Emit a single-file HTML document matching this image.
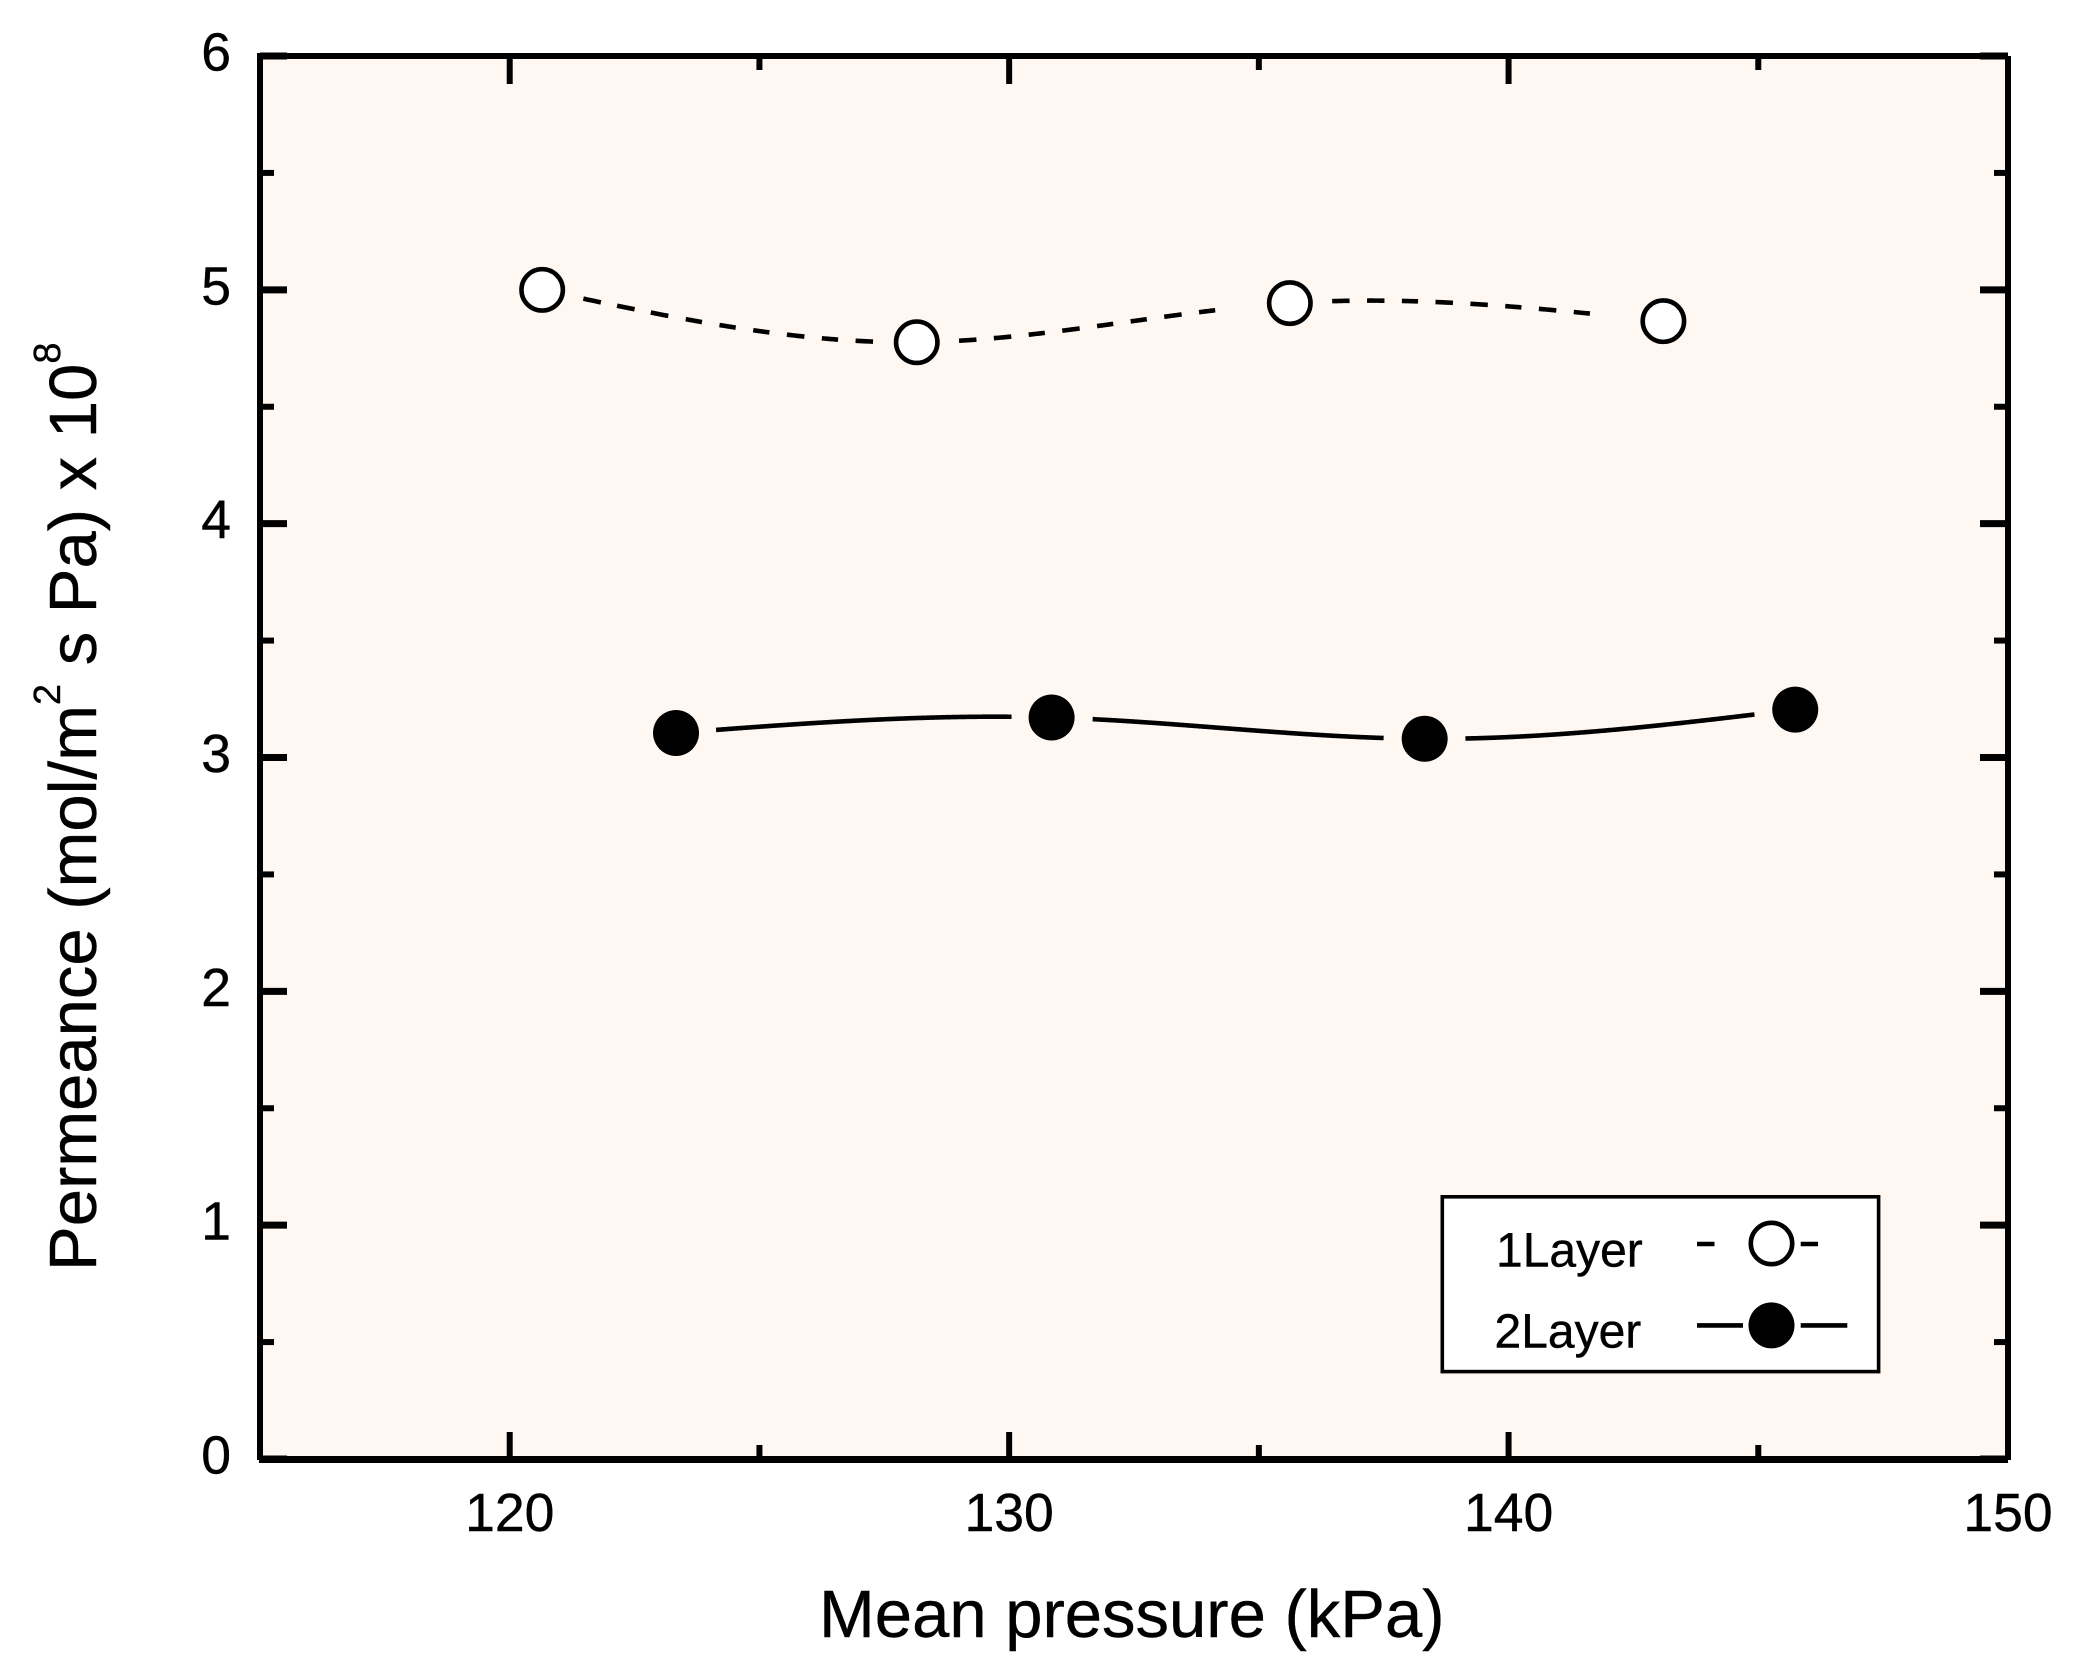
<!DOCTYPE html>
<html lang="en">
<head>
<meta charset="utf-8">
<title>Permeance vs mean pressure</title>
<style>
html,body{margin:0;padding:0;background:#fff;}
svg{display:block;}
text{font-family:"Liberation Sans",Arial,sans-serif;fill:#000;stroke:#000;stroke-width:.4;}
</style>
</head>
<body>
<svg id="chart" xmlns="http://www.w3.org/2000/svg" width="2083" height="1679" viewBox="0 0 2083 1679">
  <rect x="0" y="0" width="2083" height="1679" fill="#ffffff"/>
  <rect x="260" y="56" width="1748" height="1403" fill="#FFF7F1"/>
  <g id="ticks"></g>
  <g id="series"></g>
  <rect x="258" y="53" width="1750" height="6" fill="#000"/>
  <rect x="259" y="1456" width="1749" height="7" fill="#000"/>
  <rect x="257" y="53" width="6" height="1407" fill="#000"/>
  <rect x="2005" y="56" width="6" height="1404" fill="#000"/>
  <g id="tick-labels" font-size="53.5"></g>
  <text x="819" y="1637" font-size="67">Mean pressure (kPa)</text>
  <text transform="translate(96 1271) rotate(-90)" font-size="67">Permeance (mol/m<tspan font-size="38" dy="-36">2</tspan><tspan dy="36"> s Pa) x 10</tspan><tspan font-size="38" dy="-36">8</tspan></text>
  <g>
    <rect x="1442.3" y="1196.8" width="436.3" height="174.8" fill="#fff" stroke="#000" stroke-width="3.6"/>
    <text x="1496" y="1266.5" font-size="48">1Layer</text>
    <text x="1494.5" y="1347.5" font-size="48">2Layer</text>
    <line x1="1697" y1="1244" x2="1714.5" y2="1244" stroke="#000" stroke-width="4.6"/>
    <line x1="1800.7" y1="1244" x2="1818" y2="1244" stroke="#000" stroke-width="4.6"/>
    <circle cx="1771.5" cy="1243.5" r="20.7" fill="#fff" stroke="#000" stroke-width="4.6"/>
    <line x1="1697" y1="1325.4" x2="1743" y2="1325.4" stroke="#000" stroke-width="4.6"/>
    <line x1="1800.7" y1="1325.4" x2="1847.3" y2="1325.4" stroke="#000" stroke-width="4.6"/>
    <circle cx="1771.5" cy="1325.4" r="23" fill="#000"/>
  </g>
</svg>
<script>
const oneLayerPressure = [120.65, 128.15, 135.62, 143.10];
const oneLayerPermeance = [5.0, 4.776, 4.943, 4.866];
const twoLayerPressure = [123.33, 130.85, 138.32, 145.74];
const twoLayerPermeance = [3.105, 3.171, 3.08, 3.205];
const xMajorTicks = [120, 130, 140, 150];
const xMinorTicks = [125, 135, 145];
const xTickLabels = ['120', '130', '140', '150'];
const yMajorTicks = [0, 1, 2, 3, 4, 5, 6];
const yMinorTicks = [0.5, 1.5, 2.5, 3.5, 4.5, 5.5];
const yTickLabels = ['0', '1', '2', '3', '4', '5', '6'];

const NS = 'http://www.w3.org/2000/svg';
function xScale(v) { return 260 + (v - 115) * (1748 / 35); }
function yScale(v) { return 1459 - v * (1403 / 6); }

function make(tag, attrs, parent) {
  const el = document.createElementNS(NS, tag);
  for (const k in attrs) el.setAttribute(k, attrs[k]);
  parent.appendChild(el);
  return el;
}

/* Natural cubic spline through the series, returned per interval in pixels. */
function splinePieces(xs, ys) {
  const n = xs.length;
  const h = [], m = new Array(n).fill(0);
  for (let i = 0; i < n - 1; i++) h.push(xs[i + 1] - xs[i]);
  const c = new Array(n).fill(0), d = new Array(n).fill(0);
  for (let i = 1; i < n - 1; i++) {
    const a = h[i - 1], b = 2 * (h[i - 1] + h[i]), g = h[i];
    const r = 6 * ((ys[i + 1] - ys[i]) / h[i] - (ys[i] - ys[i - 1]) / h[i - 1]);
    const w = b - a * c[i - 1];
    c[i] = g / w;
    d[i] = (r - a * d[i - 1]) / w;
  }
  for (let i = n - 2; i > 0; i--) m[i] = d[i] - c[i] * m[i + 1];
  const pieces = [];
  for (let i = 0; i < n - 1; i++) {
    const pts = [];
    for (let s = 0; s <= 300; s++) {
      const t = s / 300, A = 1 - t, x = xs[i] + t * h[i];
      const y = A * ys[i] + t * ys[i + 1] +
        ((A * A * A - A) * m[i] + (t * t * t - t) * m[i + 1]) * h[i] * h[i] / 6;
      pts.push([xScale(x), yScale(y)]);
    }
    pieces.push(pts);
  }
  return pieces;
}

function clearOfMarkers(pts, a, b, gap) {
  return pts.filter(p => Math.hypot(p[0] - a[0], p[1] - a[1]) > gap && Math.hypot(p[0] - b[0], p[1] - b[1]) > gap);
}

function solidPath(pts) {
  return 'M' + pts.map(p => p[0].toFixed(2) + ' ' + p[1].toFixed(2)).join('L');
}

/* Whole dashes only: an incomplete trailing dash is dropped. */
function dashedPath(pts, dash, period) {
  let out = '', s = 0, cur = [pts[0]], on = true, next = dash;
  for (let i = 1; i < pts.length; i++) {
    s += Math.hypot(pts[i][0] - pts[i - 1][0], pts[i][1] - pts[i - 1][1]);
    if (on) {
      cur.push(pts[i]);
      if (s >= next) { out += solidPath(cur); on = false; next += period - dash; }
    } else if (s >= next) {
      on = true; cur = [pts[i]]; next += dash;
    }
  }
  return out;
}

function drawSeries(xs, ys, name, dashed, filled, gap) {
  const group = document.getElementById('series');
  const pieces = splinePieces(xs, ys);
  const centers = xs.map((x, i) => [xScale(x), yScale(ys[i])]);
  let d = '';
  pieces.forEach((pts, i) => {
    const kept = clearOfMarkers(pts, centers[i], centers[i + 1], gap);
    d += dashed ? dashedPath(kept, 17, 34.4) : solidPath(kept);
  });
  const line = make('path', { d: d, fill: 'none', stroke: '#000', 'stroke-width': 4.6 }, group);
  
  
  centers.forEach((c, i) => {
    const dot = make('circle', filled
      ? { cx: c[0], cy: c[1], r: 23, fill: '#000' }
      : { cx: c[0], cy: c[1], r: 20.7, fill: '#fff', stroke: '#000', 'stroke-width': 4.6 }, group);
    
    
  });
}

const tickGroup = document.getElementById('ticks');
const labelGroup = document.getElementById('tick-labels');

function drawXTicks(values, bottomEnd, topEnd, kind) {
  values.forEach(v => {
    const px = xScale(v);
    const low = make('line', { x1: px, x2: px, y1: 1459, y2: bottomEnd, stroke: '#000', 'stroke-width': 6 }, tickGroup);
    
    
    const high = make('line', { x1: px, x2: px, y1: 56, y2: topEnd, stroke: '#000', 'stroke-width': 6 }, tickGroup);
    
    
  });
}

function drawYTicks(values, leftEnd, rightEnd, width, kind) {
  values.forEach(v => {
    const py = yScale(v);
    const left = make('line', { x1: 260, x2: leftEnd, y1: py, y2: py, stroke: '#000', 'stroke-width': width }, tickGroup);
    
    
    const right = make('line', { x1: 2008, x2: rightEnd, y1: py, y2: py, stroke: '#000', 'stroke-width': width }, tickGroup);
    
    
  });
}

drawXTicks(xMajorTicks, 1432, 84, 'major');
drawXTicks(xMinorTicks, 1445, 70, 'minor');
drawYTicks(yMajorTicks, 287, 1980, 7, 'major');
drawYTicks(yMinorTicks, 274, 1994, 6, 'minor');

xMajorTicks.forEach((v, i) => {
  const t = make('text', { x: xScale(v), y: 1531, 'text-anchor': 'middle' }, labelGroup);
  t.textContent = xTickLabels[i];
  
  
});
yMajorTicks.forEach((v, i) => {
  const t = make('text', { x: 231, y: yScale(v) + 14.5, 'text-anchor': 'end' }, labelGroup);
  t.textContent = yTickLabels[i];
  
  
});

drawSeries(oneLayerPressure, oneLayerPermeance, 'series-1layer', true, false, 42);
drawSeries(twoLayerPressure, twoLayerPermeance, 'series-2layer', false, true, 40);
</script>
</body>
</html>
